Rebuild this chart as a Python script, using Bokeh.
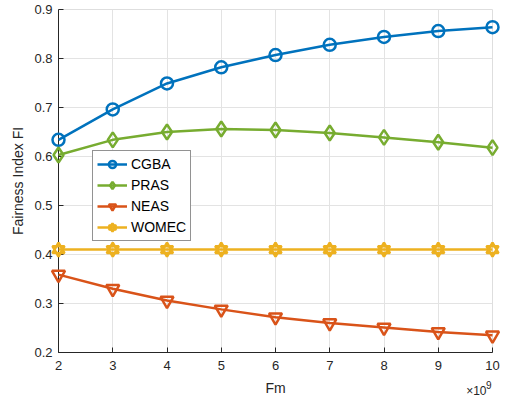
from bokeh.plotting import figure
from bokeh.models import Legend, LegendItem, Range1d, FixedTicker
from bokeh.core.properties import value
from bokeh.embed import file_html
from bokeh.resources import INLINE

fm = [2, 3, 4, 5, 6, 7, 8, 9, 10]
cgba = [0.634, 0.696, 0.749, 0.782, 0.807, 0.828, 0.844, 0.856, 0.864]
pras = [0.603, 0.634, 0.650, 0.656, 0.654, 0.648, 0.639, 0.629, 0.618]
neas = [0.359, 0.330, 0.306, 0.288, 0.272, 0.260, 0.251, 0.242, 0.235]
womec = [0.410, 0.410, 0.410, 0.410, 0.410, 0.410, 0.410, 0.410, 0.410]
xticks = [2, 3, 4, 5, 6, 7, 8, 9, 10]
yticks = [0.2, 0.3, 0.4, 0.5, 0.6, 0.7, 0.8, 0.9]
x_min, x_max = 2, 10
y_min, y_max = 0.2, 0.9

FONT = "Liberation Sans"
TXT = "#262626"

p = figure(width=506, height=399, output_backend="svg", toolbar_location=None,
           x_range=Range1d(x_min, x_max), y_range=Range1d(y_min, y_max),
           min_border_left=58, min_border_right=14, min_border_top=9, min_border_bottom=47)
p.background_fill_color = "white"
p.border_fill_color = "white"
p.outline_line_color = "#dedede"

for ax in (p.xaxis[0], p.yaxis[0]):
    ax.axis_line_color = TXT
    ax.major_tick_line_color = TXT
    ax.major_tick_in = 5
    ax.major_tick_out = 0
    ax.minor_tick_line_color = None
    ax.major_label_text_font = FONT
    ax.major_label_text_font_size = "13px"
    ax.major_label_text_color = TXT
    ax.axis_label_text_font = FONT
    ax.axis_label_text_font_size = "14px"
    ax.axis_label_text_font_style = "normal"
    ax.axis_label_text_color = TXT

p.xaxis.ticker = FixedTicker(ticks=xticks)
p.yaxis.ticker = FixedTicker(ticks=yticks)
p.xaxis.axis_label = "Fm"
p.yaxis.axis_label = "Fairness Index FI"
p.xaxis.major_label_standoff = 8
p.yaxis.major_label_standoff = 6
p.xaxis.axis_label_standoff = 7
p.yaxis.axis_label_standoff = 5
p.grid.grid_line_color = "#e3e3e3"
p.grid.grid_line_width = 1

blue = "#0072BD"
green = "#77AC30"
red = "#D95319"
yellow = "#EDB120"

items = []
l1 = p.line(fm, cgba, line_color=blue, line_width=2.5)
m1 = p.scatter(fm, cgba, marker="circle", size=12, line_color=blue, line_width=2.5, fill_color=None)
items.append(LegendItem(label="CGBA", renderers=[l1, m1]))
l2 = p.line(fm, pras, line_color=green, line_width=2.5)
m2 = p.scatter(fm, pras, marker="diamond", size=15, line_color=green, line_width=2.5, fill_color=None)
items.append(LegendItem(label="PRAS", renderers=[l2, m2]))
l3 = p.line(fm, neas, line_color=red, line_width=2.5)
m3 = p.scatter(fm, neas, marker="inverted_triangle", size=13, line_color=red, line_width=2.5, fill_color=None)
items.append(LegendItem(label="NEAS", renderers=[l3, m3]))
l4 = p.line(fm, womec, line_color=yellow, line_width=2.5)
m4a = p.scatter(fm, womec, marker="triangle", size=12, line_color=yellow, line_width=2.5, fill_color=None)
m4b = p.scatter(fm, womec, marker="inverted_triangle", size=12, line_color=yellow, line_width=2.5, fill_color=None)
items.append(LegendItem(label="WOMEC", renderers=[l4, m4a, m4b]))

for r in (l1, m1, l2, m2, l3, m3, l4, m4a, m4b):
    r.level = "overlay"

legend = Legend(items=items, location=(34, 111))
legend.border_line_color = TXT
legend.border_line_width = 1
legend.background_fill_color = "white"
legend.background_fill_alpha = 1
legend.label_text_font = FONT
legend.label_text_font_size = "14px"
legend.label_text_color = "black"
legend.glyph_width = 30
legend.glyph_height = 18
legend.label_height = 18
legend.spacing = 3
legend.padding = 4
legend.margin = 0
legend.label_standoff = 4
p.add_layout(legend, "center")

# x10^9 exponent note below the right end of the x axis
t1 = p.text(x=[x_max], y=[y_min], text=["×10"], x_offset=-6, y_offset=38,
            text_align="right", text_baseline="alphabetic",
            text_font=value(FONT), text_font_size="12px", text_color=TXT)
t2 = p.text(x=[x_max], y=[y_min], text=["9"], x_offset=-1, y_offset=32,
            text_align="right", text_baseline="alphabetic",
            text_font=value(FONT), text_font_size="10px", text_color=TXT)
t1.level = "overlay"
t2.level = "overlay"

open("out.html", "w").write(file_html(p, INLINE))
